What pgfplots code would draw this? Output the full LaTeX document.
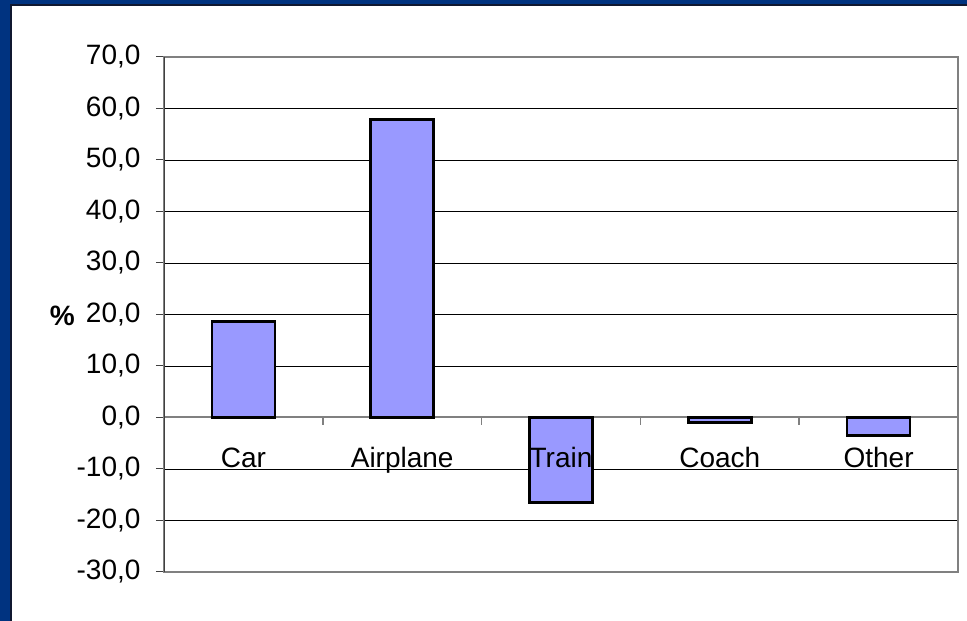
\documentclass[border=0pt]{standalone}
\usepackage{fontspec}
\setmainfont{Liberation Sans}
\usepackage{pgfplots}
\pgfplotsset{compat=1.18}
\definecolor{slide}{RGB}{0,51,128}
\definecolor{slideedge}{RGB}{16,24,48}
\definecolor{barfill}{RGB}{153,153,255}
\definecolor{frame}{RGB}{128,128,128}
\begin{document}
\begin{tikzpicture}
\useasboundingbox (0,0) rectangle (967pt,621pt);
% slide background
\fill[white] (0,0) rectangle (967pt,621pt);
\fill[slide] (0,0) rectangle (10pt,621pt);
\fill[slide] (0,617pt) rectangle (967pt,621pt);
\fill[slideedge] (10pt,0) rectangle (12pt,616pt);
\fill[slideedge] (10pt,615pt) rectangle (967pt,617pt);
\begin{axis}[
    at={(164pt,49pt)}, anchor=south west,
    scale only axis,
    width=794pt, height=515pt,
    ybar, bar width=63pt, bar shift=0pt,
    xmin=-0.5, xmax=4.5,
    ymin=-30, ymax=70,
    xtick=\empty,
    ytick={-30,-20,...,70},
    ytick pos=left,
    ytick style={draw=black!75, line width=1pt},
    tick align=outside,
    major tick length=8pt,
    ymajorgrids,
    grid style={black, line width=0.8pt},
    axis line style={frame, line width=2.5pt},
    tick label style={font=\fontsize{28}{32}\selectfont},
    /pgf/number format/assume math mode=true,
    y tick label style={xshift=-12pt, /pgf/number format/.cd, fixed, fixed zerofill, precision=1, use comma},
    ylabel={\textbf{\%}},
    every axis y label/.style={at={(rel axis cs:-0.128,0.497)}, anchor=center, font=\fontsize{28}{32}\selectfont},
]
\draw[frame, line width=2pt] (axis cs:-0.5,0) -- (axis cs:4.5,0);
\pgfplotsinvokeforeach{0.5,1.5,2.5,3.5,4.5}{
    \draw[frame, line width=1.5pt] (axis cs:#1,0) -- ([yshift=-8pt]axis cs:#1,0);
}
\addplot[fill=barfill, draw=black, line width=2.5pt] coordinates {
    (0, 18.6)
    (1, 57.9)
    (2, -16.5)
    (3, -1.0)
    (4, -3.5)
};
\draw[black!75, line width=2pt] (rel axis cs:0,0) -- (rel axis cs:0,1);
% category names sit just under the zero line, over the bars
\node[anchor=base, font=\fontsize{28}{32}\selectfont] at ([yshift=-50pt]axis cs:0,0) {Car};
\node[anchor=base, font=\fontsize{28}{32}\selectfont] at ([yshift=-50pt]axis cs:1,0) {Airplane};
\node[anchor=base, font=\fontsize{28}{32}\selectfont] at ([yshift=-50pt]axis cs:2,0) {Train};
\node[anchor=base, font=\fontsize{28}{32}\selectfont] at ([yshift=-50pt]axis cs:3,0) {Coach};
\node[anchor=base, font=\fontsize{28}{32}\selectfont] at ([yshift=-50pt]axis cs:4,0) {Other};
\end{axis}
\end{tikzpicture}
\end{document}
